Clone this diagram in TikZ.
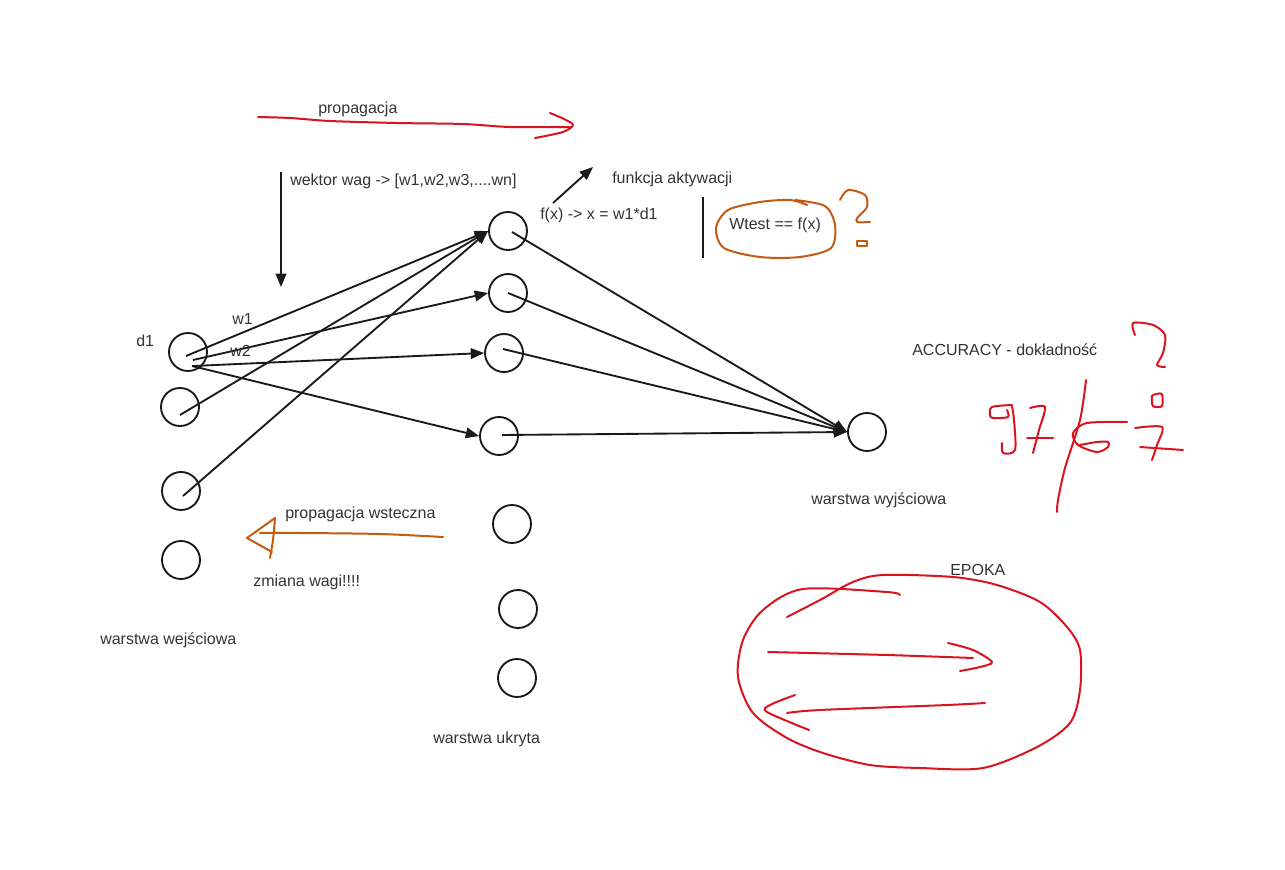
\documentclass[tikz,border=0pt]{standalone}
\usepackage{fontspec}
\setmainfont{Liberation Sans}
\usetikzlibrary{arrows.meta}
\definecolor{ink}{HTML}{1A1A1A}
\definecolor{txt}{HTML}{333333}
\definecolor{inkred}{HTML}{D9141E}
\definecolor{inkbrown}{HTML}{C55A11}

\begin{document}
\begin{tikzpicture}[x=0.75pt,y=-0.75pt,
		neuron/.style={circle,draw=ink,line width=1.4pt,minimum size=28.5pt,inner sep=0pt},
		note/.style={anchor=west,inner sep=0pt,text=txt,font=\fontsize{12}{14}\selectfont},
		link/.style={draw=ink,line width=1.4pt,-{Triangle[length=10pt,width=8pt]}},
		redpen/.style={draw=inkred,line width=1.5pt,line cap=round,line join=round},
		brownpen/.style={draw=inkbrown,line width=1.5pt,line cap=round,line join=round}]
		\useasboundingbox (0,0) rectangle (1285,870);
		% warstwa wejsciowa
		\node[neuron] (d1) at (188,352) {};
		\node[neuron] (i2) at (180,407) {};
		\node[neuron] (i3) at (181,491) {};
		\node[neuron] (i4) at (181,560) {};
		% warstwa ukryta
		\node[neuron] (h1) at (508,231) {};
		\node[neuron] (h2) at (508,293) {};
		\node[neuron] (h3) at (504,353) {};
		\node[neuron] (h4) at (499,436) {};
		\node[neuron] (h5) at (512,524) {};
		\node[neuron] (h6) at (518,609) {};
		\node[neuron] (h7) at (517,678) {};
		% warstwa wyjsciowa
		\node[neuron] (out) at (867,432) {};
		\draw[link] ([shift={(-2,4)}]d1.center) -- (h1.west);
		\draw[link] ([shift={(5,8)}]d1.center) -- (h2.west);
		\draw[link] ([shift={(5,14)}]d1.center) -- (h3.west);
		\draw[link] ([shift={(4,14)}]d1.center) -- (h4.west);
		\draw[link] ([shift={(0,8)}]i2.center) -- (h1.west);
		\draw[link] ([shift={(2,5)}]i3.center) -- (h1.west);
		\draw[link] ([shift={(4,1)}]h1.center) -- (out.west);
		\draw[link] (h2.center) -- (out.west);
		\draw[link] ([shift={(-1,-4)}]h3.center) -- (out.west);
		\draw[link] ([shift={(3,-1)}]h4.center) -- (out.west);
		\coordinate (wtop) at (281,172);
		\coordinate (wbot) at (281,287);
		\draw[link] (wtop) -- (wbot);
		\coordinate (fstart) at (553,203);
		\coordinate (fend) at (593,167);
		\draw[link] (fstart) -- (fend);
		\coordinate (bartop) at (703,197);
		\coordinate (barbot) at (703,258);
		\draw[ink,line width=1.4pt] (bartop) -- (barbot);
		% napisy
		\node[note] (prop) at (318,109) {propagacja};
		\node[note] (wektor) at (290,181) {wektor wag -> [w1,w2,w3,....wn]};
		\node[note] (fx) at (540,215) {f(x) -> x = w1*d1};
		\node[note] (akt) at (612,179) {funkcja aktywacji};
		\node[note] (wtest) at (729,225) {Wtest == f(x)};
		\node[note] (d1txt) at (136,341) {d1};
		\node[note] (w1txt) at (232,319) {w1};
		\node[note] (w2txt) at (230,351) {w2};
		\node[note] (acc) at (912,350) {ACCURACY - dokładność};
		\node[note] (wyj) at (811,500) {warstwa wyjściowa};
		\node[note] (wstecz) at (285,514) {propagacja wsteczna};
		\node[note] (zmiana) at (253,582) {zmiana wagi!!!!};
		\node[note] (wej) at (100,640) {warstwa wejściowa};
		\node[note] (ukr) at (433,739) {warstwa ukryta};
		\node[note] (epoka) at (950,570) {EPOKA};
		% odreczne
		\draw[redpen] plot[smooth] coordinates {(258,117) (290,118) (330,121) (397,123) (463,124) (510,127) (570,127)};
		\draw[redpen] plot[smooth] coordinates {(550,113) (564,119) (573,125) (563,132) (535,138)};
		\draw[brownpen] plot[smooth] coordinates {(260,533) (300,533) (380,534) (443,537)};
		\draw[brownpen] (275,518) -- (247,538) -- (272,552);
		\draw[brownpen] plot[smooth] coordinates {(275,518) (273,540) (270,558)};
		\draw[brownpen] plot[smooth] coordinates {(807,205) (790,200) (760,202) (728,210) (716,228) (724,248) (760,257) (800,257) (831,248) (835,225) (825,206) (795,200)};
		\draw[brownpen] plot[smooth] coordinates {(840,200) (848,190) (865,195) (867,207) (858,217) (857,222) (870,222)};
		\draw[brownpen] (857,241) rectangle (867,246);
		\draw[redpen] plot[smooth] coordinates {(1135,335) (1133,323) (1153,325) (1165,335) (1163,353) (1157,365) (1165,367)};
		\draw[redpen] plot[smooth cycle] coordinates {(1152,396) (1153,406) (1162,406) (1162,394) (1157,394)};
		\draw[redpen] plot[smooth] coordinates {(1012,405) (992,407) (990,415) (993,418) (1008,417) (1007,410)};
		\draw[redpen] plot[smooth] coordinates {(1012,406) (1014,420) (1015,450) (1003,453) (1002,443)};
		\draw[redpen] plot[smooth] coordinates {(1030,408) (1045,407) (1039,430) (1033,453)};
		\draw[redpen] (1027,438) -- (1053,438);
		\draw[redpen] plot[smooth] coordinates {(1086,380) (1080,420) (1065,468) (1058,500) (1057,512)};
		\draw[redpen] plot[smooth] coordinates {(1127,422) (1087,423) (1073,433) (1078,445) (1097,452) (1108,447) (1108,442) (1097,442) (1080,445)};
		\draw[redpen] plot[smooth] coordinates {(1135,428) (1162,427) (1157,445) (1152,460)};
		\draw[redpen] (1140,447) -- (1183,450);
		\draw[redpen] plot[smooth] coordinates {(900,595) (887,592) (803,589) (763,610) (743,640) (738,677) (753,713) (787,738) (823,753) (870,765) (920,768) (983,768) (1037,747) (1070,723) (1080,690) (1080,650) (1067,627) (1040,602) (997,585) (953,577) (883,575) (853,582) (820,600) (787,617)};
		\draw[redpen] plot[smooth] coordinates {(768,652) (887,655) (973,658)};
		\draw[redpen] plot[smooth] coordinates {(948,643) (973,650) (992,662) (980,667) (960,671)};
		\draw[redpen] plot[smooth] coordinates {(985,703) (947,705) (820,710) (787,713)};
		\draw[redpen] plot[smooth] coordinates {(795,695) (770,705) (767,712) (809,730)};
	\end{tikzpicture}
\end{document}
